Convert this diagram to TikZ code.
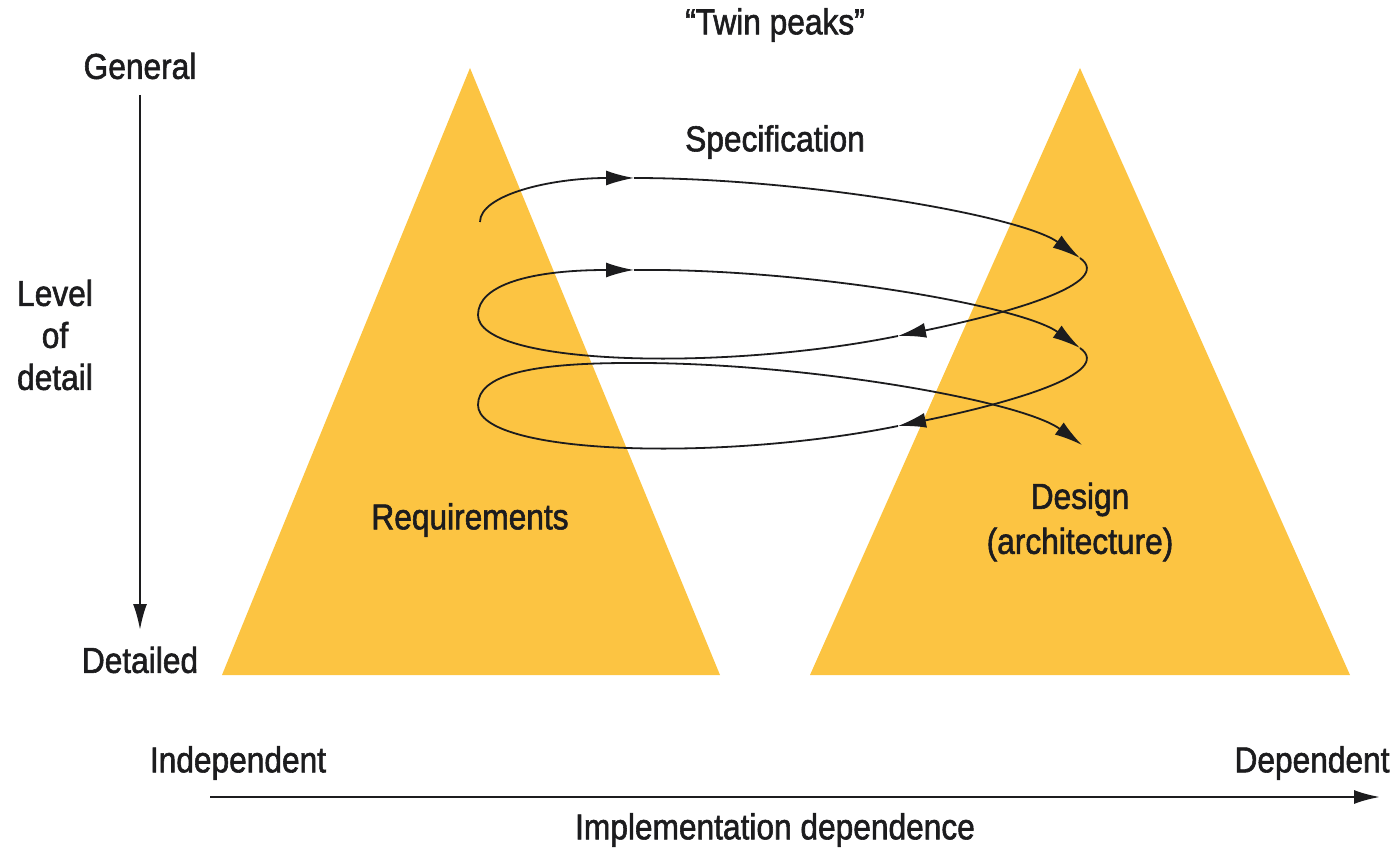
\documentclass[tikz,border=0pt]{standalone}
\usepackage{fontspec}
\setmainfont[FakeStretch=0.88,FakeBold=1.6]{Liberation Sans}
\usetikzlibrary{arrows.meta}
\definecolor{peak}{RGB}{252,196,66}
\definecolor{ink}{RGB}{28,28,30}
\begin{document}
\begin{tikzpicture}[x=0.5pt,y=-0.5pt,
  lbl/.style={font=\fontsize{18}{21}\selectfont, inner sep=0pt, align=center, text=ink},
  axis/.style={draw=ink, line width=1.1pt, -{Latex[length=13pt,width=7pt]}},
  loop/.style={draw=ink, line width=0.9pt},
  tip/.style={loop, -{Latex[length=14pt,width=7.5pt]}}]
\useasboundingbox (0,0) rectangle (1396,849);

% the two peaks
\fill[peak] (470,68) -- (720,675) -- (222,675) -- cycle;
\fill[peak] (1080,68) -- (1350,675) -- (810,675) -- cycle;

% labels
\node[lbl] (title) at (775,25) {“Twin peaks”};
\node[lbl] (general) at (140,66) {General};
\node[lbl] (detailed) at (140,660) {Detailed};
\node[lbl] (level) at (55,335) {Level\\of\\detail};
\node[lbl] (spec) at (775,142) {Specification};
\node[lbl] (req) at (470,520) {Requirements};
\node[lbl] (design) at (1080,522) {Design\\[1.5pt](architecture)};
\node[lbl] (indep) at (238,763) {Independent};
\node[lbl] (dep) at (1312,763) {Dependent};
\node[lbl] (impl) at (775,830) {Implementation dependence};

% axes
\coordinate (vtop) at (140,95);
\coordinate (vbot) at (140,630);
\coordinate (hleft) at (210,797);
\coordinate (hright) at (1380,797);
\draw[axis] (vtop) -- (vbot);
\draw[axis] (hleft) -- (hright);

% spiral between the peaks
\coordinate (s0) at (480,222);
\coordinate (a1) at (634,178);
\coordinate (a2) at (1080,258);
\coordinate (a3) at (898,336);
\coordinate (l1) at (478,315);
\coordinate (a4) at (634,270);
\coordinate (a5) at (1080,348);
\coordinate (a6) at (898,426);
\coordinate (l2) at (478,405);
\coordinate (t3) at (630,363);
\coordinate (a8) at (1082,445);

\draw[tip] (s0) .. controls (480,195) and (550,178) .. (a1);
\draw[tip] (a1) .. controls (800,178) and (1020,215) .. (a2);
\draw[tip] (a2) .. controls (1115,283) and (1010,313) .. (a3);
\draw[loop] (a3) .. controls (720,372) and (478,365) .. (l1);
\draw[tip] (l1) .. controls (478,285) and (530,270) .. (a4);
\draw[tip] (a4) .. controls (800,268) and (1020,305) .. (a5);
\draw[tip] (a5) .. controls (1115,373) and (1010,403) .. (a6);
\draw[loop] (a6) .. controls (720,462) and (478,455) .. (l2);
\draw[loop] (l2) .. controls (478,375) and (530,363) .. (t3);
\draw[tip] (t3) .. controls (800,362) and (1020,400) .. (a8);
\end{tikzpicture}
\end{document}
